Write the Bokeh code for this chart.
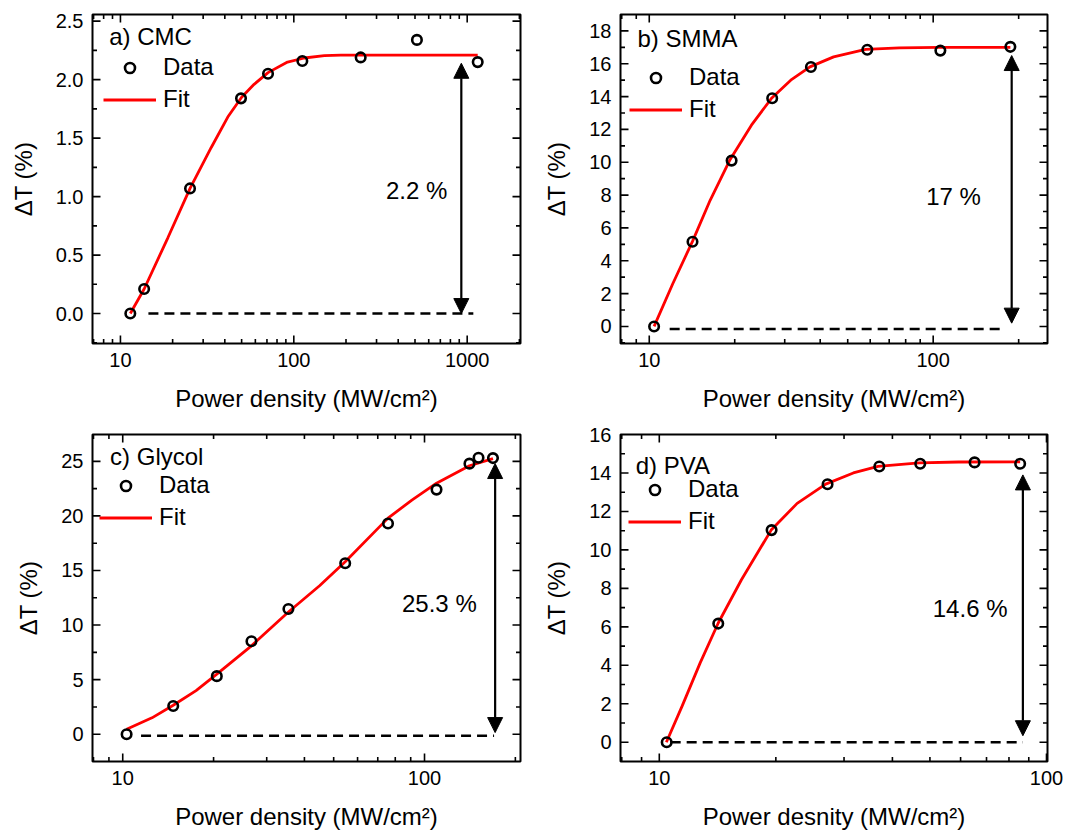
import math
from bokeh.plotting import figure
from bokeh.layouts import column, row
from bokeh.models import (Range1d, FixedTicker, NumeralTickFormatter,
                          Legend, LegendItem, Label, Arrow, NormalHead)
from bokeh.embed import file_html
from bokeh.resources import INLINE

FONT = "Liberation Sans"

# ---------------- data ----------------
a_x = [11.4, 13.7, 25.2, 49.6, 71, 112, 243, 513, 1150]
a_y = [0.0, 0.21, 1.07, 1.84, 2.05, 2.16, 2.19, 2.34, 2.15]
a_fit_x = [11.4, 13.7, 18.8, 25.2, 33.4, 41.6, 50, 59, 71, 92, 115, 150, 187, 300, 600, 1150]
a_fit_y = [0.0, 0.21, 0.65, 1.07, 1.42, 1.68, 1.85, 1.96, 2.06, 2.15, 2.185, 2.205, 2.21, 2.21, 2.21, 2.21]

b_x = [10.4, 14.2, 19.5, 27.1, 37.1, 58.6, 106, 187]
b_y = [0.0, 5.16, 10.1, 13.9, 15.8, 16.85, 16.8, 17.03]
b_fit_x = [10.4, 12.1, 14.2, 16.4, 19.2, 22.9, 26.9, 31.5, 36.8, 44.6, 57.8, 76, 105, 187]
b_fit_y = [0.0, 2.6, 5.18, 7.7, 10.12, 12.26, 13.88, 15.0, 15.81, 16.42, 16.87, 16.97, 17.0, 17.0]

c_x = [10.3, 14.7, 20.5, 26.7, 35.4, 54.6, 75.7, 109.6, 140.9, 151, 168.6]
c_y = [0.0, 2.59, 5.32, 8.52, 11.47, 15.66, 19.31, 22.41, 24.79, 25.33, 25.30]
c_fit_x = [10.3, 12.5, 14.7, 17.5, 20.5, 26.7, 35.4, 44.9, 54.6, 75.7, 90.8, 109.6, 140.9, 168.6]
c_fit_y = [0.46, 1.5, 2.65, 4.0, 5.5, 8.1, 11.2, 13.6, 15.8, 19.8, 21.45, 23.0, 24.6, 25.25]

d_x = [10.45, 14.2, 19.5, 27.2, 37.0, 47.2, 65.2, 85.5]
d_y = [0.0, 6.17, 11.03, 13.41, 14.34, 14.48, 14.55, 14.48]
d_fit_x = [10.43, 11.46, 12.76, 14.2, 16.3, 19.45, 22.7, 26.9, 31.7, 36.7, 46.9, 59.3, 85.5]
d_fit_y = [0.0, 1.89, 4.14, 6.2, 8.45, 11.03, 12.42, 13.42, 14.0, 14.34, 14.52, 14.57, 14.58]

titles = ["a) CMC", "b) SMMA", "c) Glycol", "d) PVA"]
values = ["2.2 %", "17 %", "25.3 %", "14.6 %"]
xlabels = ["Power density (MW/cm²)", "Power density (MW/cm²)",
           "Power density (MW/cm²)", "Power desnity (MW/cm²)"]
ylabel = "ΔT (%)"

x_major = [10, 100, 1000]
x_minor = [k * 10 ** e for e in range(0, 4) for k in range(2, 10)]


def style_axis(ax):
    ax.axis_line_color = None
    ax.major_tick_line_color = None
    ax.minor_tick_line_color = None
    ax.major_tick_in = 0
    ax.major_tick_out = 0
    ax.minor_tick_in = 0
    ax.minor_tick_out = 0
    ax.major_label_text_font = FONT
    ax.major_label_text_font_size = "20px"
    ax.major_label_text_color = "black"
    ax.major_label_standoff = 9
    ax.axis_label_text_font = FONT
    ax.axis_label_text_font_size = "24px"
    ax.axis_label_text_font_style = "normal"
    ax.axis_label_text_color = "black"


def inner_ticks(p, xr, yr, yticks, yminor):
    kw = dict(marker="dash", line_color="black", line_width=1.6)
    xm = [t for t in x_major if xr[0] < t < xr[1]]
    xn = [t for t in x_minor if xr[0] < t < xr[1]]
    ym = [t for t in yticks if yr[0] < t < yr[1]]
    yn = [t for t in yminor if yr[0] < t < yr[1]]
    for yy in (yr[0], yr[1]):
        p.scatter(xm, [yy] * len(xm), size=16, angle=math.pi / 2, **kw)
        p.scatter(xn, [yy] * len(xn), size=9, angle=math.pi / 2, **kw)
    for xx in (xr[0], xr[1]):
        p.scatter([xx] * len(ym), ym, size=16, **kw)
        p.scatter([xx] * len(yn), yn, size=9, **kw)


def panel(xr, yr, xs, ys, fx, fy, yticks, yminor, yfmt, title, tpos, base, arrow, val, vpos,
          legloc, borders, size, xlabel):
    W, H = size
    bl, br, bt, bb = borders
    p = figure(width=W, height=H, x_axis_type="log", x_range=Range1d(*xr), y_range=Range1d(*yr),
               output_backend="svg", toolbar_location=None,
               min_border_left=bl, min_border_right=br, min_border_top=bt, min_border_bottom=bb)
    p.xgrid.visible = False
    p.ygrid.visible = False
    p.outline_line_color = "black"
    p.outline_line_width = 2
    p.outline_line_alpha = 1.0

    p.xaxis.ticker = FixedTicker(ticks=x_major, minor_ticks=x_minor)
    p.yaxis.ticker = FixedTicker(ticks=yticks, minor_ticks=yminor)
    p.xaxis.formatter = NumeralTickFormatter(format="0")
    p.yaxis.formatter = NumeralTickFormatter(format=yfmt)
    p.xaxis.axis_label = xlabel
    p.yaxis.axis_label = ylabel
    style_axis(p.xaxis[0])
    style_axis(p.yaxis[0])
    p.xaxis.axis_label_standoff = 15
    p.yaxis.axis_label_standoff = 16

    inner_ticks(p, xr, yr, yticks, yminor)

    # baseline and arrow
    p.line(base[0], [base[1], base[1]], line_color="black", line_width=2.5, line_dash="10 6")
    head = dict(size=15, fill_color="black", line_color="black", line_width=1)
    p.add_layout(Arrow(start=NormalHead(**head), end=NormalHead(**head),
                       x_start=arrow[0], y_start=arrow[1], x_end=arrow[0], y_end=arrow[2],
                       line_color="black", line_width=2.2))

    fit = p.line(fx, fy, line_color="#ff0000", line_width=2.8)
    dat = p.scatter(xs, ys, marker="circle", size=9.5, fill_color=None,
                    line_color="black", line_width=2.6)

    p.add_layout(Label(x=tpos[0], y=tpos[1], text=title, text_font=FONT, text_font_size="24px",
                       text_baseline="middle", text_align="left", text_color="black"))
    p.add_layout(Label(x=vpos[0], y=vpos[1], text=val, text_font=FONT, text_font_size="24px",
                       text_baseline="middle", text_align="center", text_color="black"))

    leg = Legend(items=[LegendItem(label="Data", renderers=[dat]),
                        LegendItem(label="Fit", renderers=[fit])],
                 location=legloc, glyph_width=53, glyph_height=25, label_height=25,
                 label_standoff=7, spacing=4, padding=0, margin=0,
                 border_line_alpha=0, background_fill_alpha=0,
                 label_text_font=FONT, label_text_font_size="24px", label_text_color="black")
    p.add_layout(leg, "center")
    return p


pa = panel((6.9, 2030), (-0.256, 2.557), a_x, a_y, a_fit_x, a_fit_y,
           [0, 0.5, 1.0, 1.5, 2.0, 2.5], [-0.25, 0.25, 0.75, 1.25, 1.75, 2.25], "0.0",
           titles[0], (8.61, 2.37), ([14.5, 1085], 0.0), (925, 0.0, 2.14), values[0], (511, 1.05),
           (11, 230), (92, 20, 14, 73), (540, 416), xlabels[0])

pb = panel((7.92, 252.7), (-1.04, 19.0), b_x, b_y, b_fit_x, b_fit_y,
           list(range(0, 19, 2)), list(range(-1, 19, 2)), "0",
           titles[1], (9.09, 17.54), ([11.8, 173], -0.15), (189, 0.2, 16.5), values[1], (118, 7.9),
           (9, 220), (77, 18, 14, 73), (525, 416), xlabels[1])

pc = panel((7.94, 208), (-2.5, 27.46), c_x, c_y, c_fit_x, c_fit_y,
           list(range(0, 26, 5)), [-2.5, 2.5, 7.5, 12.5, 17.5, 22.5], "0",
           titles[2], (9.08, 25.46), ([11.5, 170], -0.15), (171.4, 0.15, 24.8), values[2], (112, 12.0),
           (7, 230), (92, 20, 18, 69), (540, 416), xlabels[2])

pd_ = panel((7.94, 100.6), (-1.0, 16.0), d_x, d_y, d_fit_x, d_fit_y,
            list(range(0, 17, 2)), list(range(-1, 16, 2)), "0",
            titles[3], (8.69, 14.4), ([10.7, 86.9], 0.0), (86.9, 0.34, 13.9), values[3], (63.5, 6.93),
            (8, 226), (77, 18, 18, 69), (525, 416), xlabels[3])

layout = column(row(pa, pb), row(pc, pd_))
open("out.html", "w").write(file_html(layout, INLINE))
